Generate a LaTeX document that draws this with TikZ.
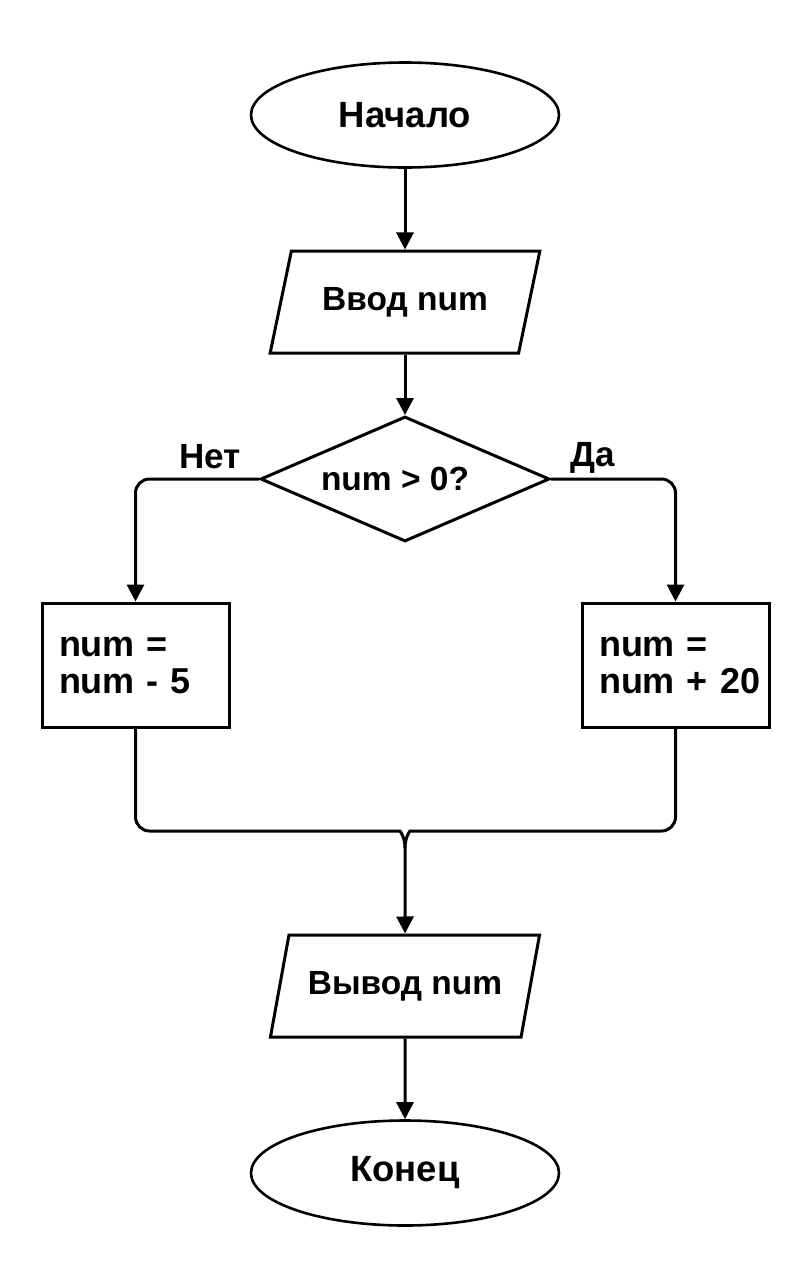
\documentclass[tikz,border=0pt]{standalone}
\usepackage{fontspec}
\setmainfont{Liberation Sans}
\usetikzlibrary{shapes.geometric,arrows.meta,calc}
\begin{document}
\begin{tikzpicture}[x=1pt,y=-1pt,
  every node/.style={font=\bfseries\fontsize{33.5}{36}\selectfont, text=black},
  term/.style={ellipse, draw, line width=2.6pt, minimum width=308pt, minimum height=105pt, inner sep=0pt,
    font=\bfseries\fontsize{36.5}{40}\selectfont},
  io/.style={trapezium, trapezium left angle=62.5, trapezium right angle=117.5, draw, line width=3pt,
    minimum width=270pt, minimum height=102pt, inner sep=0pt, trapezium stretches=true},
  decision/.style={diamond, draw, line width=3pt, shape aspect=2.3, minimum width=289pt, minimum height=125pt, inner sep=0pt},
  proc/.style={rectangle, draw, line width=3pt, minimum width=187pt, minimum height=124pt,
    text width=153pt, inner xsep=17pt, align=left, font=\bfseries\fontsize{36}{37}\selectfont},
  lbl/.style={font=\bfseries\fontsize{35}{38}\selectfont},
  conn/.style={line width=3pt},
  arr/.style={conn, -{Triangle[length=17pt,width=17pt]}}
]
\useasboundingbox (0,0) rectangle (809,1280);
\fill[white] (0,0) rectangle (809,1280);

\node[term] (start) at (405,115) {Начало};
\node[io] (in) at (405,302) {Ввод num};
\node[decision] (dec) at (405,479) {\hspace*{-20pt}num > 0?};
\node[proc] (left) at (135.5,665) {num~=\\num~-~5};
\node[proc] (right) at (675.5,665) {num~=\\num~+~20};
\node[io] (out) at (405,986) {Вывод num};
\node[term] (end) at (405,1173) {Конец};

\node[lbl] (no) at (210,457) {Нет};
\node[lbl] (yes) at (593,458) {Да};

\coordinate (jl) at (386,831);
\coordinate (jr) at (424,831);
\coordinate (join) at (405,848);

\draw[arr] (start) -- (in);
\draw[arr] (in) -- (dec);
\draw[arr, rounded corners=14pt] (dec.west) -| (left.north);
\draw[arr, rounded corners=14pt] (dec.east) -| (right.north);
\draw[conn, rounded corners=14pt] (left.south) |- (jl) .. controls (400,831) and (405,837) .. (join);
\draw[conn, rounded corners=14pt] (right.south) |- (jr) .. controls (410,831) and (405,837) .. (join);
\draw[arr] (join) -- (out.north);
\draw[arr] (out) -- (end);
\end{tikzpicture}
\end{document}
